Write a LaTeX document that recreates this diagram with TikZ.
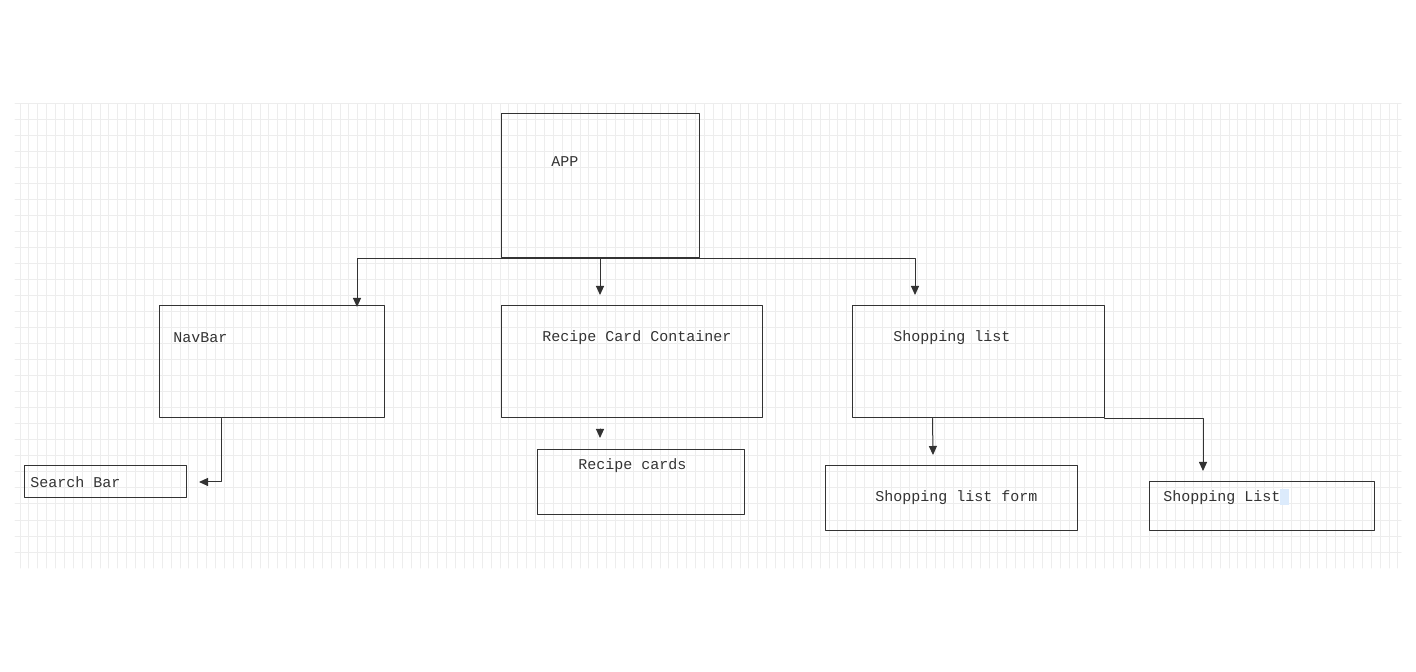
\documentclass[tikz,border=0pt]{standalone}
\usepackage{fontspec}
\setmonofont{Liberation Mono}
\usetikzlibrary{arrows.meta}

\definecolor{ink}{HTML}{333333}
\definecolor{gridgray}{HTML}{EDEDED}
\definecolor{selblue}{HTML}{DCEBFC}

\begin{document}
\begin{tikzpicture}[x=0.5pt, y=-0.5pt, line cap=round, line join=round,
  box/.style={draw=ink, line width=0.5pt, inner sep=0pt},
  lbl/.style={anchor=west, inner sep=0pt, text=ink, font=\ttfamily\fontsize{7.5}{9}\selectfont},
  arr/.style={draw=ink, line width=0.5pt, -{Triangle[length=4.5pt, width=4pt]}},
  gridline/.style={draw=gridgray, line width=0.5pt}]

% Bildgröße wie Vorlage
\useasboundingbox (0,0) rectangle (1416,672);

% Raster im Hintergrund
\foreach \gx in {0,...,155}
  \draw[gridline] (20+\gx*8.89,104) -- (20+\gx*8.89,568);
\foreach \gy in {0,...,28}
  \draw[gridline] (15,104+\gy*16) -- (1401,104+\gy*16);

% Kästen
\node[box, minimum width=99pt, minimum height=72pt] (app) at (600,186) {};
\node[box, minimum width=112.5pt, minimum height=56pt] (navbar) at (271.5,362) {};
\node[box, minimum width=130.5pt, minimum height=56pt] (container) at (631.5,362) {};
\node[box, minimum width=126pt, minimum height=56pt] (shoplist) at (978,362) {};
\node[box, minimum width=81pt, minimum height=16pt] (searchbar) at (105,482) {};
\node[box, minimum width=103.5pt, minimum height=32pt] (cards) at (640.5,482) {};
\node[box, minimum width=126pt, minimum height=32pt] (listform) at (951,498) {};
\node[box, minimum width=112.5pt, minimum height=24pt] (listview) at (1261.5,506) {};

% Markierung hinter dem letzten Wort
\fill[selblue] (1280,489) rectangle (1289,505);

% Beschriftungen
\node[lbl] (apptxt) at (551,162) {APP};
\node[lbl] (navtxt) at (173,338) {NavBar};
\node[lbl] (containertxt) at (542,338) {Recipe Card Container};
\node[lbl] (shoptxt) at (893,338) {Shopping list};
\node[lbl] (searchtxt) at (30,482) {Search Bar};
\node[lbl] (cardstxt) at (578,466) {Recipe cards};
\node[lbl] (formtxt) at (875,498) {Shopping list form};
\node[lbl] (viewtxt) at (1163,498) {Shopping List};

% Endpunkte der Pfeile
\coordinate (navin) at (357,307);
\coordinate (containerin) at (600,295);
\coordinate (shopin) at (915,295);
\coordinate (searchin) at (199,482);
\coordinate (cardsin) at (600,438);
\coordinate (formin) at (933,455);
\coordinate (viewin) at (1203,471);

% Verbindungen von APP
\draw[arr] (app.south) -| (navin);
\draw[arr] (app.south) -- (containerin);
\draw[arr] (app.south) -| (shopin);

% NavBar -> Search Bar
\draw[arr] ([xshift=31.5pt]navbar.south west) |- (searchin);

% Recipe Card Container -> Recipe cards (nur Spitze)
\draw[arr] (600,429) -- (cardsin);

% Shopping list -> Formular und Liste
\draw[arr] ([xshift=40.5pt]shoplist.south west) -- (formin);
\draw[arr] (shoplist.south east) -| (viewin);

\end{tikzpicture}
\end{document}
